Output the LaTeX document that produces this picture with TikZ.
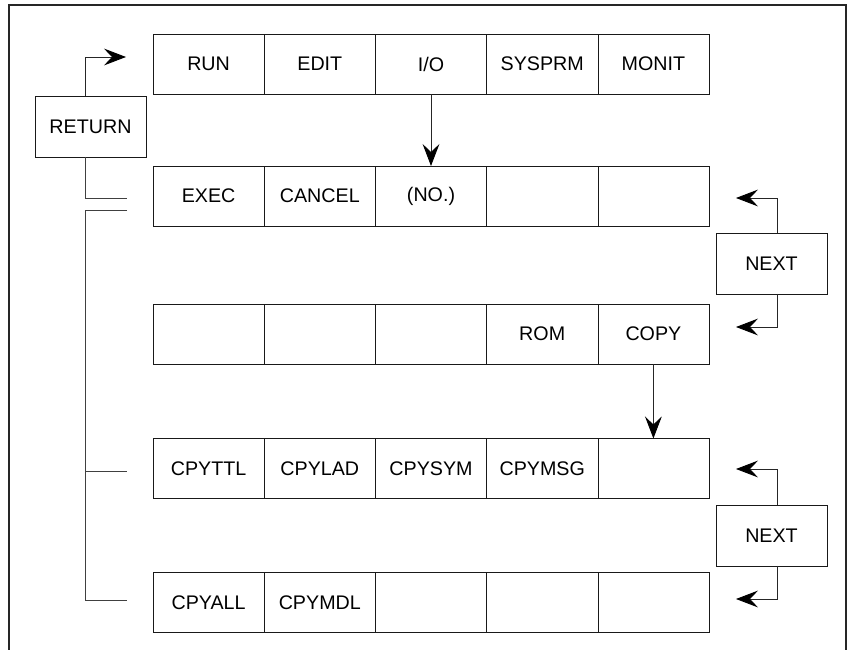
\documentclass[tikz,border=0pt]{standalone}
\usepackage{fontspec}
\setmainfont{Liberation Sans}
\usetikzlibrary{arrows.meta}
\usetikzlibrary{calc}
\tikzset{
  % One soft key of a menu row
  softkey/.style={
    draw=black!90, fill=white, rectangle, align=center,
    inner sep=0pt, outer sep=0pt, minimum width=2.78cm, minimum height=1.5cm},
  % A key that switches the menu
  btn/.style={
    draw=black!90, fill=white, rectangle, align=center,
    inner sep=0pt, outer sep=0pt, minimum width=2.775cm, minimum height=1.52cm},
  % Connectors
  link/.style={draw=black!75, line width=0.6pt},
  goto/.style={-{Stealth[length=5.5mm, width=4.2mm, inset=2mm, black]}, draw=black!85, line width=0.6pt},
  frame/.style={draw=black!85, line width=1.2pt},
}
% a row of five soft keys: name, y, labels
\newcommand{\menurow}[3]{%
  \foreach \lab [count=\i] in {#3}
    \node[softkey] (#1-\i) at ({208.6+111.2*(\i-1)},#2) {\lab};}

\begin{document}
\begin{tikzpicture}[x=0.025cm, y=-0.025cm, font=\fontsize{14}{16}\selectfont]

  \useasboundingbox (0,0) rectangle (848,650);
  \draw[frame] (9,650) -- (9,5) -- (846,5) -- (846,650);

  \menurow{menu}{64}{RUN,EDIT,I/O,SYSPRM,MONIT}
  \menurow{ioa}{196}{EXEC,CANCEL,(NO.),{},{}}
  \menurow{iob}{334}{{},{},{},ROM,COPY}
  \menurow{cpya}{468.5}{CPYTTL,CPYLAD,CPYSYM,CPYMSG,{}}
  \menurow{cpyb}{602.5}{CPYALL,CPYMDL,{},{},{}}

  \node[btn] (ret) at (90.5,126.5) {RETURN};
  \node[btn] (nexta) at (771.5,263.5) {NEXT};
  \node[btn] (nextb) at (771.5,535.5) {NEXT};

  \draw[goto] (menu-3.south) -- (ioa-3.north);
  \draw[goto] (iob-5.south) -- (cpya-5.north);

  % RETURN bus on the left
  \coordinate (bus) at (85,0);
  \coordinate (rin) at (126,57);
  \coordinate (sa) at (127,198);
  \coordinate (sb) at (127,210);
  \coordinate (sc) at (127,471);
  \coordinate (sd) at (127,600);
  \draw[goto] (ret.north -| bus) |- (rin);
  \draw[link] (ret.south -| bus) |- (sa);
  \draw[link] (sb) -| (bus |- sd) -- (sd);
  \draw[link] (bus |- sc) -- (sc);

  % NEXT keys on the right
  \coordinate (nx) at (777,0);
  \coordinate (na) at (736,198);
  \coordinate (nb) at (736,327);
  \coordinate (nc) at (736,469);
  \coordinate (nd) at (736,599);
  \draw[goto] (nexta.north -| nx) |- (na);
  \draw[goto] (nexta.south -| nx) |- (nb);
  \draw[goto] (nextb.north -| nx) |- (nc);
  \draw[goto] (nextb.south -| nx) |- (nd);

\end{tikzpicture}
\end{document}
